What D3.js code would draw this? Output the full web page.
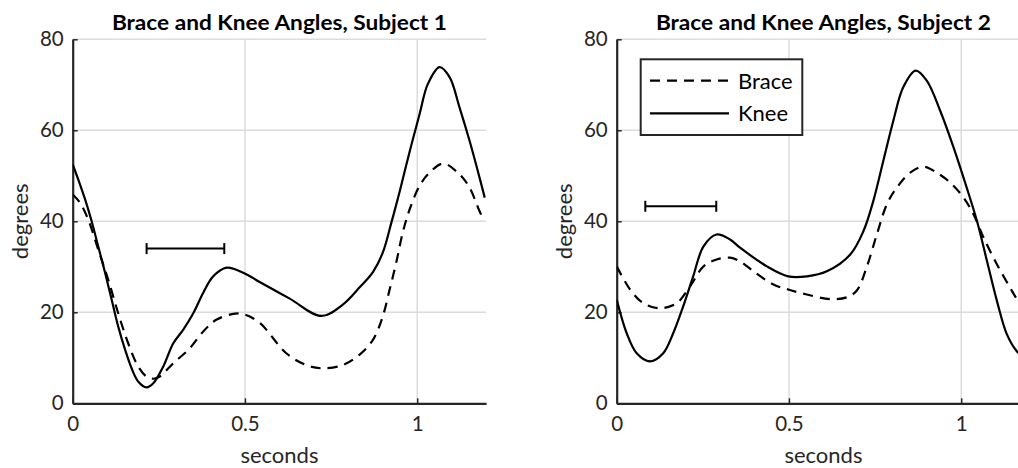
<!DOCTYPE html>
<html><head><meta charset="utf-8">
<script src="https://cdn.jsdelivr.net/npm/d3@7"></script>
<style>
html,body{margin:0;padding:0;background:#fff;}
svg{display:block;}
text{font-family:Lato,"Open Sans",sans-serif;fill:#262626;}
</style></head>
<body>
<svg id="chart" width="1018" height="468"></svg>
<script>
// ---------- data ----------
const xTicks = [0, 0.5, 1];
const xTickLabels = ["0", "0.5", "1"];
const yTicks = [0, 20, 40, 60, 80];
const yTickLabels = ["0", "20", "40", "60", "80"];
const titles = ["Brace and Knee Angles, Subject 1", "Brace and Knee Angles, Subject 2"];
const seriesNames = ["Brace", "Knee"];

// Subject 1
const s1KneeT = [0, 0.016, 0.036, 0.055, 0.074, 0.094, 0.113, 0.132, 0.152, 0.171, 0.19, 0.214, 0.234, 0.263, 0.292, 0.321, 0.35, 0.379, 0.408, 0.447, 0.495, 0.544, 0.63, 0.722, 0.784, 0.833, 0.872, 0.9, 0.925, 0.949, 0.978, 1.007, 1.031, 1.065, 1.094, 1.123, 1.152, 1.181, 1.196];
const s1KneeV = [52.5, 49.2, 44.8, 40.0, 34.5, 28.7, 22.8, 16.9, 11.8, 7.7, 4.8, 3.5, 4.4, 8.1, 13.2, 16.2, 19.8, 24.3, 27.9, 29.8, 28.7, 26.6, 23.0, 19.2, 21.7, 25.5, 28.9, 33.1, 39.7, 46.5, 55.3, 63.6, 70.2, 73.9, 71.7, 65.0, 57.7, 49.6, 45.2];
const s1BraceT = [0, 0.021, 0.045, 0.074, 0.103, 0.132, 0.161, 0.19, 0.214, 0.235, 0.253, 0.292, 0.34, 0.379, 0.418, 0.471, 0.5, 0.544, 0.62, 0.678, 0.722, 0.784, 0.833, 0.872, 0.9, 0.92, 0.939, 0.958, 0.978, 1.007, 1.036, 1.076, 1.123, 1.152, 1.181, 1.19];
const s1BraceV = [45.9, 44.1, 40.4, 33.8, 27.2, 19.8, 13.2, 8.1, 5.9, 5.4, 5.9, 8.8, 12.1, 15.8, 18.4, 19.7, 19.5, 17.6, 11.0, 8.4, 7.7, 8.4, 10.7, 14.0, 19.1, 25.0, 30.9, 37.5, 42.6, 47.8, 50.7, 52.7, 50.3, 47.4, 42.2, 40.8];
const s1ErrT = [0.2145, 0.44];
const s1ErrV = 34.0;

// Subject 2
const s2KneeT = [0, 0.029, 0.058, 0.097, 0.135, 0.164, 0.193, 0.222, 0.252, 0.29, 0.329, 0.358, 0.436, 0.498, 0.552, 0.61, 0.678, 0.716, 0.745, 0.774, 0.803, 0.832, 0.868, 0.9, 0.939, 0.978, 1.016, 1.046, 1.075, 1.104, 1.133, 1.162, 1.2];
const s2KneeV = [22.8, 15.4, 11.0, 9.2, 11.0, 15.4, 21.3, 27.9, 34.5, 37.1, 36.0, 34.2, 30.1, 27.9, 27.9, 29.0, 32.7, 37.8, 44.5, 53.3, 62.1, 69.5, 73.1, 70.9, 64.3, 56.2, 47.4, 40.0, 31.2, 22.4, 15.1, 11.4, 9.0];
const s2BraceT = [0, 0.039, 0.077, 0.126, 0.174, 0.213, 0.252, 0.29, 0.329, 0.358, 0.397, 0.455, 0.498, 0.552, 0.62, 0.668, 0.697, 0.726, 0.755, 0.784, 0.813, 0.852, 0.891, 0.929, 0.968, 1.007, 1.036, 1.065, 1.104, 1.142, 1.166, 1.2];
const s2BraceV = [30.1, 25.0, 22.0, 20.9, 22.0, 25.7, 30.1, 31.6, 32.0, 31.2, 29.0, 26.1, 25.0, 23.9, 22.9, 23.3, 24.8, 30.0, 37.1, 43.7, 47.4, 50.7, 52.0, 50.7, 48.5, 45.2, 41.5, 36.4, 30.5, 25.4, 22.4, 19.0];
const s2ErrT = [0.083, 0.289];
const s2ErrV = 43.3;

// ---------- drawing ----------
const svg = d3.select("#chart");
const axisColor = "#262626";
const gridColor = "#dcdcdc";

const panels = [
  {left: 72.7, title: titles[0], kneeT: s1KneeT, kneeV: s1KneeV, braceT: s1BraceT, braceV: s1BraceV, errT: s1ErrT, errV: s1ErrV, legend: false, ylabX: 22},
  {left: 616.7, title: titles[1], kneeT: s2KneeT, kneeV: s2KneeV, braceT: s2BraceT, braceV: s2BraceV, errT: s2ErrT, errV: s2ErrV, legend: true, ylabX: 566}
];

const yTopPx = 39.3, yBotPx = 403.3;
const pxPerUnit = 344.5;

panels.forEach((p, i) => {
  const x = d3.scaleLinear().domain([0, 1.2]).range([p.left, p.left + 1.2 * pxPerUnit]);
  const y = d3.scaleLinear().domain([0, 80]).range([yBotPx, yTopPx]);
  const g = svg.append("g");

  // grid
  g.append("g").selectAll("line").data(xTicks.filter(d => d > 0)).join("line")
    .attr("x1", d => x(d)).attr("x2", d => x(d)).attr("y1", y(0)).attr("y2", y(80))
    .attr("stroke", gridColor).attr("stroke-width", 1.5);
  g.append("g").selectAll("line").data(yTicks.filter(d => d > 0)).join("line")
    .attr("x1", x(0)).attr("x2", x(1.2)).attr("y1", d => y(d)).attr("y2", d => y(d))
    .attr("stroke", gridColor).attr("stroke-width", 1.5);

  // axes
  const xAxis = d3.axisBottom(x).tickValues(xTicks).tickFormat((d, k) => xTickLabels[k]).tickSizeInner(-5).tickSizeOuter(0).tickPadding(13);
  const yAxis = d3.axisLeft(y).tickValues(yTicks).tickFormat((d, k) => yTickLabels[k]).tickSizeInner(-5).tickSizeOuter(0).tickPadding(9);
  const gx = g.append("g").attr("transform", `translate(0,${yBotPx})`).call(xAxis);
  const gy = g.append("g").attr("transform", `translate(${p.left},0)`).call(yAxis);
  [gx, gy].forEach(a => {
    a.select(".domain").attr("stroke", axisColor).attr("stroke-width", 2.2);
    a.selectAll(".tick line").attr("stroke", axisColor).attr("stroke-width", 1.5);
    a.selectAll(".tick text").attr("font-size", 20.5).attr("font-family", "Lato, 'Open Sans', sans-serif").attr("fill", axisColor);
  });

  // lines
  const line = d3.line().x(d => x(d[0])).y(d => y(d[1])).curve(d3.curveCatmullRom.alpha(0.5));
  const clipId = "clip" + i;
  svg.append("clipPath").attr("id", clipId).append("rect")
    .attr("x", x(0)).attr("y", y(80)).attr("width", x(1.2) - x(0)).attr("height", y(0) - y(80));
  const braceData = p.braceT.map((t, k) => [t, p.braceV[k]]);
  const kneeData = p.kneeT.map((t, k) => [t, p.kneeV[k]]);
  g.append("path").datum(braceData).attr("d", line).attr("fill", "none").attr("stroke", "#000")
    .attr("stroke-width", 2.2).attr("stroke-dasharray", "10,7").attr("clip-path", `url(#${clipId})`);
  g.append("path").datum(kneeData).attr("d", line).attr("fill", "none").attr("stroke", "#000")
    .attr("stroke-width", 2.2).attr("clip-path", `url(#${clipId})`);

  // error bar (horizontal)
  const eg = g.append("g").attr("stroke", "#000").attr("stroke-width", 2);
  eg.append("line").attr("x1", x(p.errT[0])).attr("x2", x(p.errT[1])).attr("y1", y(p.errV)).attr("y2", y(p.errV));
  p.errT.forEach(t => eg.append("line").attr("x1", x(t)).attr("x2", x(t)).attr("y1", y(p.errV) - 5.5).attr("y2", y(p.errV) + 5.5));

  // titles & labels
  g.append("text").attr("x", (x(0) + x(1.2)) / 2).attr("y", 30).attr("text-anchor", "middle")
    .attr("font-weight", "bold").attr("font-size", 21.5).attr("textLength", 335).attr("lengthAdjust", "spacingAndGlyphs")
    .style("fill", "#000").text(p.title);
  g.append("text").attr("x", (x(0) + x(1.2)) / 2).attr("y", 463).attr("text-anchor", "middle")
    .attr("font-size", 22).text("seconds");
  g.append("text").attr("transform", `translate(${p.ylabX + 6},${(yTopPx + yBotPx) / 2}) rotate(-90)`)
    .attr("text-anchor", "middle").attr("font-size", 22).text("degrees");

  // legend
  if (p.legend) {
    const lg = g.append("g");
    lg.append("rect").attr("x", 640.7).attr("y", 59.3).attr("width", 161.6).attr("height", 75.7)
      .attr("fill", "#fff").attr("stroke", axisColor).attr("stroke-width", 2);
    const rows = [{name: seriesNames[0], yy: 80.7, dash: "10,7"}, {name: seriesNames[1], yy: 113.3, dash: null}];
    rows.forEach(r => {
      lg.append("line").attr("x1", 650).attr("x2", 729).attr("y1", r.yy).attr("y2", r.yy)
        .attr("stroke", "#000").attr("stroke-width", 2.2).attr("stroke-dasharray", r.dash);
      lg.append("text").attr("x", 738).attr("y", r.yy).attr("dy", "0.36em").attr("font-size", 22).style("fill", "#000").text(r.name);
    });
  }
});
</script>
</body></html>
